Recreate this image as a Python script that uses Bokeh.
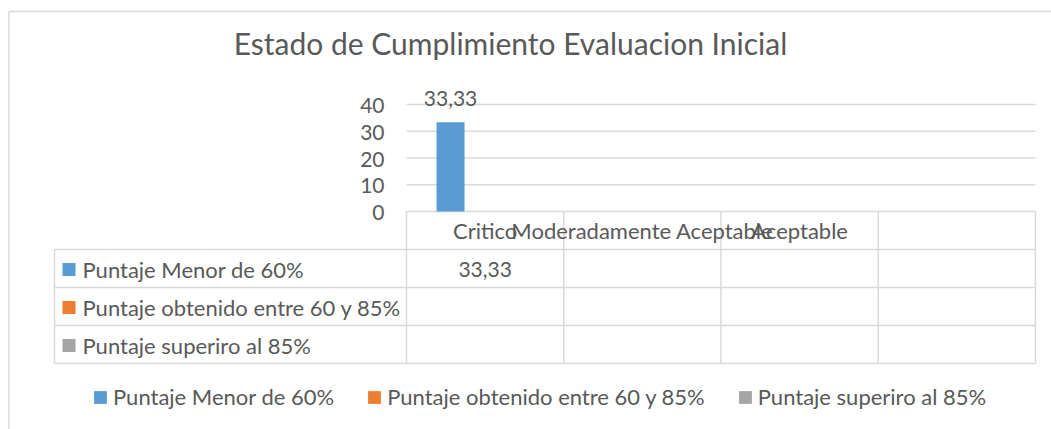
import numpy as np
from bokeh.plotting import figure
from bokeh.models import Range1d, ColumnDataSource, Legend, LegendItem
from bokeh.core.properties import value
from bokeh.embed import file_html
from bokeh.resources import INLINE

# ---------------- data ----------------
title_text = "Estado de Cumplimiento Evaluacion Inicial"
categories = ["Critico", "Moderadamente Aceptable", "Aceptable", ""]
series_names = ["Puntaje Menor de 60%", "Puntaje obtenido entre 60 y 85%", "Puntaje superiro al 85%"]
series_colors = ["#5B9BD5", "#ED7D31", "#A5A5A5"]
puntaje_menor_60 = [33.33, None, None, None]
puntaje_60_85 = [None, None, None, None]
puntaje_sup_85 = [None, None, None, None]
y_ticks = [0, 10, 20, 30, 40]

series_values = [puntaje_menor_60, puntaje_60_85, puntaje_sup_85]

# ---------------- layout helpers (page pixel -> data) ----------------
W, H = 1051, 429
COLW = 157.25
X0PX = 406.0
Y0PX = 211.0
PXU = 2.675  # pixels per y unit


def X(px):
    return (px - X0PX) / COLW


def Y(py):
    return (Y0PX - py) / PXU


TXT = "#595959"
LINE = "#D9D9D9"
FONT = "Lato"
FS = "22px"
NFS = "21px"

p = figure(width=W, height=H, x_range=Range1d(X(0), X(W)), y_range=Range1d(Y(H), Y(0)),
           x_axis_location=None, y_axis_location=None, min_border=0,
           output_backend="svg", toolbar_location=None, tools="")
p.outline_line_color = None
p.grid.visible = False
p.background_fill_color = "white"

# outer chart border (top and left)
p.segment(x0=[X(8.5), X(8.5)], y0=[Y(11), Y(11)], x1=[X(W), X(8.5)], y1=[Y(11), Y(H)],
          line_color=LINE, line_width=1.5)

# title
p.text(x=[X(510)], y=[Y(42)], text=[title_text], text_align="center", text_baseline="middle",
       text_font=value(FONT), text_font_size="30px", text_color=TXT)

# horizontal gridlines
ncat = len(categories)
p.segment(x0=[0] * len(y_ticks), y0=y_ticks, x1=[ncat] * len(y_ticks), y1=y_ticks,
          line_color=LINE, line_width=1.3)
# y tick labels
p.text(x=[X(384)] * len(y_ticks), y=y_ticks, text=[str(t) for t in y_ticks], text_align="right",
       text_baseline="middle", y_offset=1, text_font=value(FONT), text_font_size=NFS, text_color=TXT)

# bars
offsets = [-0.22, 0.0, 0.22]
bar_w = 0.178
renderers = []
for s, (name, col, vals) in enumerate(zip(series_names, series_colors, series_values)):
    xs = [i + 0.5 + offsets[s] for i in range(ncat)]
    tops = [np.nan if v is None else v for v in vals]
    src = ColumnDataSource(dict(x=xs, top=tops))
    r = p.vbar(x="x", top="top", bottom=0, width=bar_w, source=src, fill_color=col, line_color=None)
    renderers.append(r)
    lab = [(xx, v) for xx, v in zip(xs, vals) if v is not None]
    if lab:
        p.text(x=[a for a, _ in lab], y=[b for _, b in lab],
               text=[f"{b:.2f}".replace(".", ",") for _, b in lab], text_align="center",
               text_baseline="middle", y_offset=-24, text_font=value(FONT), text_font_size=NFS,
               text_color=TXT)

# data table
row_lines_px = [249, 287, 325, 363]
rows_y = [Y(v) for v in row_lines_px]
p.segment(x0=[X(54)] * len(rows_y), y0=rows_y, x1=[ncat] * len(rows_y), y1=rows_y,
          line_color=LINE, line_width=1.5)
vx = list(range(ncat + 1))
p.segment(x0=vx, y0=[0] * len(vx), x1=vx, y1=[rows_y[-1]] * len(vx), line_color=LINE, line_width=1.5)
p.segment(x0=[X(54)], y0=[rows_y[0]], x1=[X(54)], y1=[rows_y[-1]], line_color=LINE, line_width=1.5)

# category labels in header row
p.text(x=[i + 0.5 for i in range(ncat)], y=[Y(230)] * ncat, text=categories, text_align="center",
       text_baseline="middle", text_font=value(FONT), text_font_size=FS, text_color=TXT)

# row labels + keys + values
for s, (name, col, vals) in enumerate(zip(series_names, series_colors, series_values)):
    yc = Y((row_lines_px[s] + row_lines_px[s + 1]) / 2 + 1)
    p.scatter(x=[X(68.5)], y=[yc], marker="square", size=13, fill_color=col, line_color=None)
    p.text(x=[X(82)], y=[yc], text=[name], text_align="left", text_baseline="middle",
           text_font=value(FONT), text_font_size=FS, text_color=TXT)
    cells = [(i + 0.5, v) for i, v in enumerate(vals) if v is not None]
    if cells:
        p.text(x=[a for a, _ in cells], y=[yc] * len(cells),
               text=[f"{b:.2f}".replace(".", ",") for _, b in cells], text_align="center",
               text_baseline="middle", text_font=value(FONT), text_font_size=NFS, text_color=TXT)

# bottom legend
legend = Legend(items=[LegendItem(label=n, renderers=[r]) for n, r in zip(series_names, renderers)],
                orientation="horizontal", location=(92, 19), glyph_width=16, glyph_height=16,
                label_standoff=5, spacing=32, padding=0, margin=0, border_line_color=None,
                background_fill_alpha=0, label_text_font=FONT, label_text_font_size=FS,
                label_text_color=TXT, label_height=20)
p.add_layout(legend)

open("out.html", "w").write(file_html(p, INLINE))
